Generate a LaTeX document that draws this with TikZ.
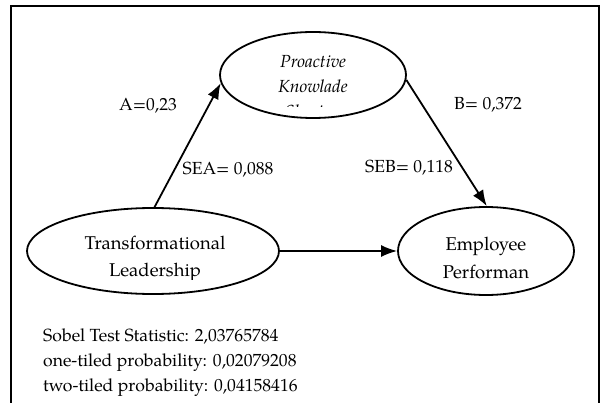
\documentclass[tikz,border=0pt]{standalone}
\usepackage{fontspec}
\setmainfont{TeX Gyre Pagella}
\usetikzlibrary{shapes.geometric,arrows.meta}

\tikzset{
  var/.style={ellipse, draw, line width=1.8pt, inner sep=0pt},
  link/.style={line width=1.8pt, -{Latex[length=16pt,width=12pt]}},
  lbl/.style={inner sep=0pt, anchor=base, font=\fontsize{17.5}{21}\selectfont},
  vtext/.style={inner sep=0pt, anchor=base, font=\fontsize{18.5}{22}\selectfont},
  stat/.style={inner sep=0pt, anchor=base west, font=\fontsize{17.6}{21}\selectfont},
}

\begin{document}
\begin{tikzpicture}[x=1pt, y=-1pt]
  \useasboundingbox (0,0) rectangle (601,403);

  % open frame around the model
  \draw[line width=2.2pt] (11,404) -- (11,6) -- (599,6) -- (599,404);

  % variables
  \node[var, minimum width=186pt, minimum height=86pt] (pk) at (313,75) {};
  \node[var, minimum width=252pt, minimum height=86pt] (tl) at (153,251) {};
  \node[var, minimum width=176pt, minimum height=88pt] (ep) at (486,251) {};

  % variable names, cut off by their text boxes
  \begin{scope}
    \clip (200,40) rectangle (430,106.5);
    \node[vtext, font=\fontsize{17.5}{21}\selectfont\itshape] (pk1) at (313,68) {Proactive};
    \node[vtext, font=\fontsize{17.5}{21}\selectfont\itshape] (pk2) at (313,93) {Knowlade};
    \node[vtext, font=\fontsize{17.5}{21}\selectfont\itshape] (pk3) at (313,118) {Sharing};
  \end{scope}
  \begin{scope}
    \clip (30,220) rectangle (280,279);
    \node[vtext] (tl1) at (155,249) {Transformational};
    \node[vtext] (tl2) at (155,276) {Leadership};
  \end{scope}
  \begin{scope}
    \clip (400,220) rectangle (572,280);
    \node[vtext] (ep1) at (486,250) {Employee};
    \node[vtext] (ep2) at (486,278) {Performan};
  \end{scope}

  % paths
  \draw[link] (tl.88) -- (pk.185);
  \draw[link] (pk.-3) -- (ep.89);
  \draw[link] (tl.east) -- (ep.west);

  % coefficients and standard errors
  \node[lbl] (a) at (148,111) {A=0,23};
  \node[lbl] (sea) at (228,175) {SEA= 0,088};
  \node[lbl] (b) at (488,110) {B= 0,372};
  \node[lbl] (seb) at (409,173) {SEB= 0,118};

  % Sobel test results
  \node[stat] (s1) at (43,341) {Sobel Test Statistic: 2,03765784};
  \node[stat] (s2) at (43,366) {one-tiled probability: 0,02079208};
  \node[stat] (s3) at (43,391) {two-tiled probability: 0,04158416};
\end{tikzpicture}
\end{document}
